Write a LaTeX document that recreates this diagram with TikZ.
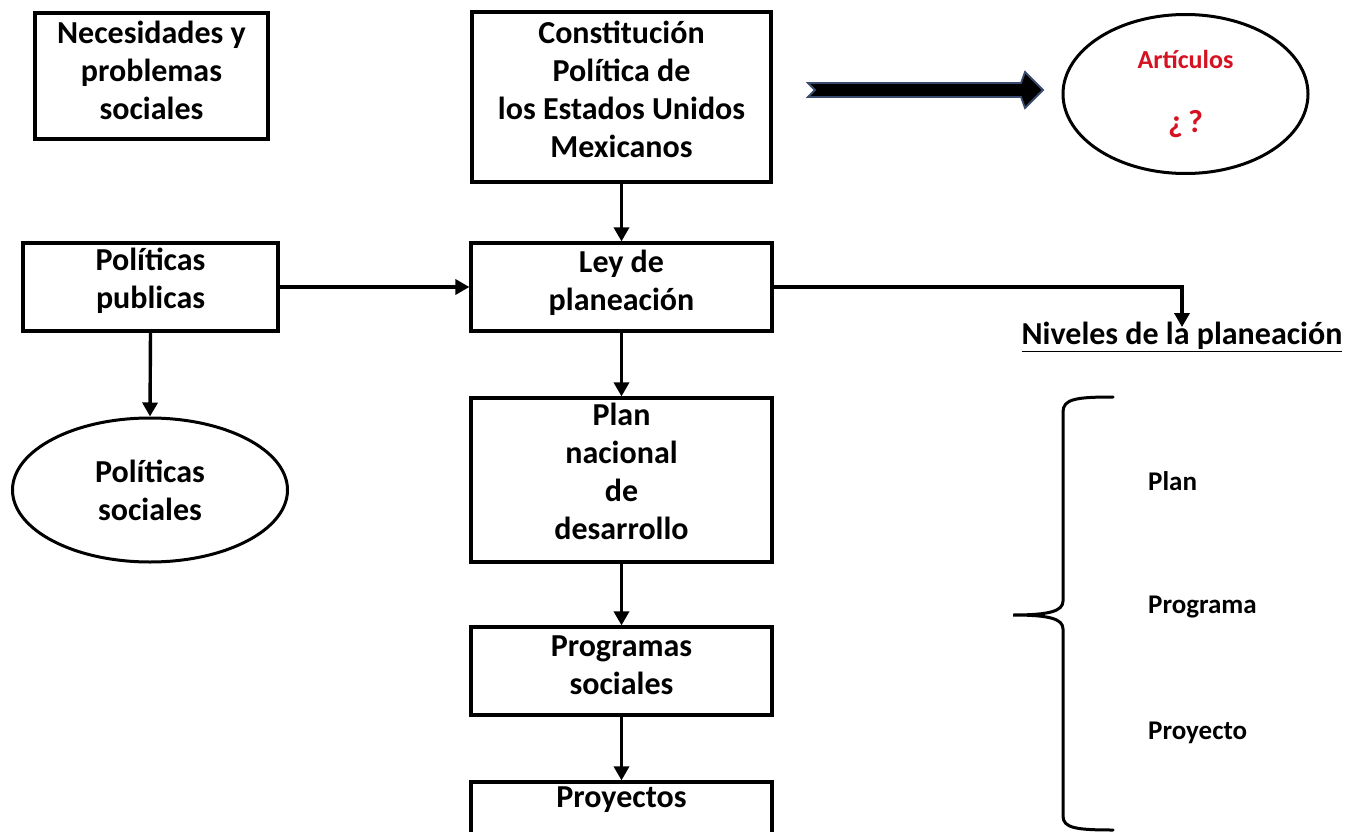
\documentclass[tikz,border=0pt]{standalone}
\usepackage{fontspec}
\setmainfont{Carlito}
\usetikzlibrary{arrows.meta,shapes.geometric}
\definecolor{artred}{RGB}{214,18,34}
\definecolor{arrowedge}{RGB}{58,76,110}
\begin{document}
\begin{tikzpicture}[x=1pt,y=-1pt,
  box/.style={draw, rectangle, line width=3.2pt, inner sep=0pt},
  oval/.style={draw, ellipse, line width=3pt, inner sep=0pt, align=center,
    font=\fontsize{32}{38}\selectfont\bfseries},
  txt/.style={align=center, inner sep=0pt, font=\fontsize{32}{38}\selectfont\bfseries},
  lvl/.style={anchor=west, inner sep=0pt, font=\fontsize{27}{33}\selectfont\bfseries},
  conn/.style={line width=3.4pt, -{Triangle[length=14pt,width=15pt]}}]
\fill[white] (0,0) rectangle (1350,832);
\useasboundingbox (0,0) rectangle (1350,832);

% boxes
\node[box, minimum width=233pt, minimum height=126pt] (nec) at (151.5,76) {};
\node[txt] (nect) at (151.5,70) {Necesidades y\\problemas\\sociales};

\node[box, minimum width=299pt, minimum height=170pt] (con) at (621.5,97) {};
\node[txt] (cont) at (621.5,89) {Constitución\\Política de\\los Estados Unidos\\Mexicanos};

\node[box, minimum width=255pt, minimum height=88pt] (pp) at (150.5,287) {};
\node[txt] (ppt) at (150.5,281) {Políticas\\publicas};

\node[box, minimum width=301pt, minimum height=88pt] (ley) at (621.5,287) {};
\node[txt] (leyt) at (621.5,283) {Ley de\\planeación};

\node[box, minimum width=301pt, minimum height=164pt] (plan) at (621.5,480) {};
\node[txt] (plant) at (621.5,471) {Plan\\nacional\\de\\desarrollo};

\node[box, minimum width=301pt, minimum height=88pt] (prog) at (621.5,671) {};
\node[txt] (progt) at (621.5,665) {Programas\\sociales};

\node[box, minimum width=301pt, minimum height=54pt] (proy) at (621.5,809) {};
\node[txt] (proyt) at (621.5,800) {Proyectos};

% ellipses
\node[oval, minimum width=275pt, minimum height=144pt] (ps) at (150,490) {Políticas\\sociales};
\node[oval, minimum width=245pt, minimum height=159pt, text=artred] (art) at (1185.5,94)
  {{\fontsize{26}{30}\selectfont Artículos}\\[26pt]{\fontsize{32}{38}\selectfont ¿\,?}};

% levels
\node[txt] (niv) at (1182,337) {\underline{Niveles de la planeación}};
\node[lvl] (l1) at (1148,481) {Plan};
\node[lvl] (l2) at (1148,607) {Programa};
\node[lvl] (l3) at (1148,733) {Proyecto};

% connectors
\draw[conn] (con.south) -- (ley.north);
\draw[conn] (ley.south) -- (plan.north);
\draw[conn] (plan.south) -- (prog.north);
\draw[conn] (prog.south) -- (proy.north);
\draw[conn] (pp.east) -- (ley.west);
\draw[conn] (pp.south) -- (ps.north);
\draw[conn] (ley.east) -| ([yshift=-5pt]niv.north);

% thick block arrow
\coordinate (ta) at (808,90);
\coordinate (tb) at (1043,90);
\filldraw[fill=black, draw=arrowedge, line width=1.8pt, line join=miter]
  (808,83) -- (1021,83) -- (1025,72) -- (tb) -- (1025,108) -- (1021,97)
  -- (808,97) -- (815,90) -- cycle;

% brace
\draw[line width=3pt, line cap=round]
  (1113,397) .. controls (1076,397) and (1063,399) .. (1063,412)
  -- (1063,601) .. controls (1063,611) and (1050,615) .. (1013,615)
  .. controls (1050,615) and (1063,619) .. (1063,629)
  -- (1063,816) .. controls (1063,828) and (1076,830) .. (1113,830);
\end{tikzpicture}
\end{document}
